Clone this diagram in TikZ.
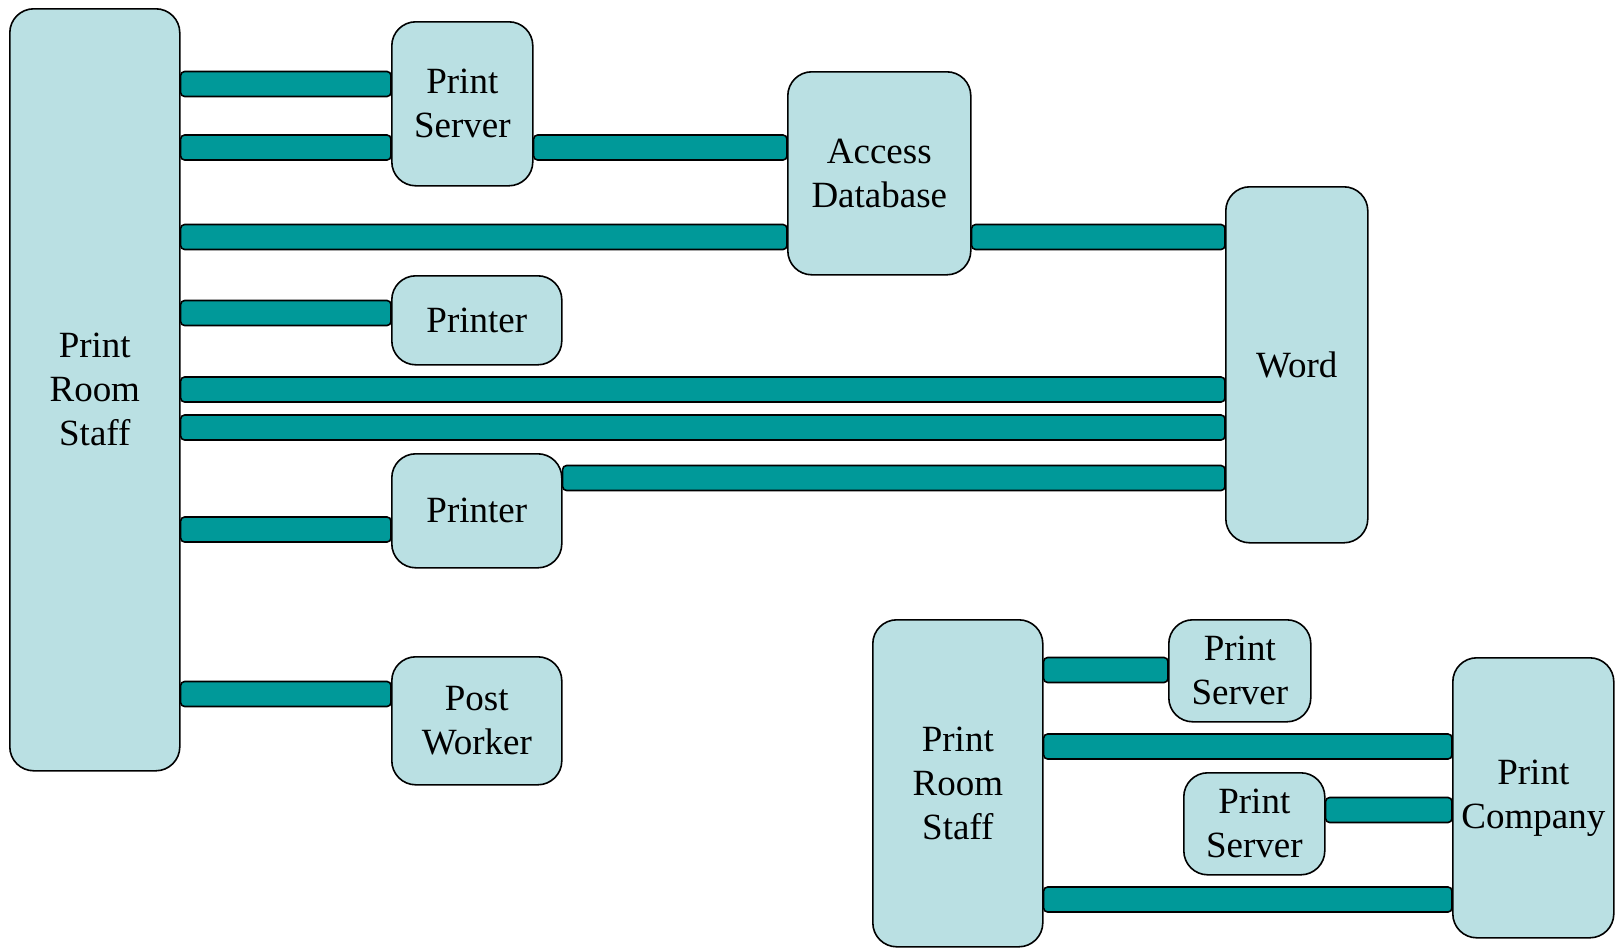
\documentclass[tikz,border=0pt]{standalone}
\usepackage{fontspec}
\setmainfont{Liberation Serif}
\definecolor{boxfill}{RGB}{186,224,227}
\definecolor{barfill}{RGB}{0,153,153}
\tikzset{
  unit/.style={draw=black, line width=1.6pt, fill=boxfill, rounded corners=24pt,
    anchor=north west, inner sep=0pt, align=center,
    font=\fontsize{37}{44}\selectfont},
  linkbar/.style={draw=black, line width=1.6pt, fill=barfill, rounded corners=4pt}
}
\newcommand\linkit[3]{\draw[linkbar] (#1.east |- 0,{#3-12.5}) rectangle (#2.west |- 0,{#3+12.5});}
\begin{document}
\begin{tikzpicture}[x=1pt,y=-1pt]
\useasboundingbox (0,0) rectangle (1615,948);
% top diagram
\node[unit, minimum width=170pt, minimum height=762pt] (L) at (9,8) {Print\\Room\\Staff};
\node[unit, minimum width=141pt, minimum height=164pt] (PS1) at (391,21) {Print\\Server};
\node[unit, minimum width=183pt, minimum height=203pt] (AD) at (787,71) {Access\\Database};
\node[unit, minimum width=142pt, minimum height=356pt] (W) at (1225,186) {Word};
\node[unit, minimum width=170pt, minimum height=89pt] (P1) at (391,275) {Printer};
\node[unit, minimum width=170pt, minimum height=114pt] (P2) at (391,453) {Printer};
\node[unit, minimum width=170pt, minimum height=128pt] (PW) at (391,656) {Post\\Worker};
% bottom diagram
\node[unit, minimum width=170pt, minimum height=327pt] (L2) at (872,619) {Print\\Room\\Staff};
\node[unit, minimum width=142pt, minimum height=102pt] (PS3) at (1168,619) {Print\\Server};
\node[unit, minimum width=141pt, minimum height=102pt] (PS4) at (1183,772) {Print\\Server};
\node[unit, minimum width=161pt, minimum height=280pt] (PC) at (1452,657) {Print\\Company};
% connectors
\linkit{L}{PS1}{84}
\linkit{L}{PS1}{147.5}
\linkit{PS1}{AD}{147.5}
\linkit{L}{AD}{237}
\linkit{AD}{W}{237}
\linkit{L}{P1}{313}
\linkit{L}{W}{389.5}
\linkit{L}{W}{427.5}
\linkit{P2}{W}{478}
\linkit{L}{P2}{529.5}
\linkit{L}{PW}{694}
\linkit{L2}{PS3}{670}
\linkit{L2}{PC}{746.5}
\linkit{PS4}{PC}{810}
\linkit{L2}{PC}{899.5}
\end{tikzpicture}
\end{document}
